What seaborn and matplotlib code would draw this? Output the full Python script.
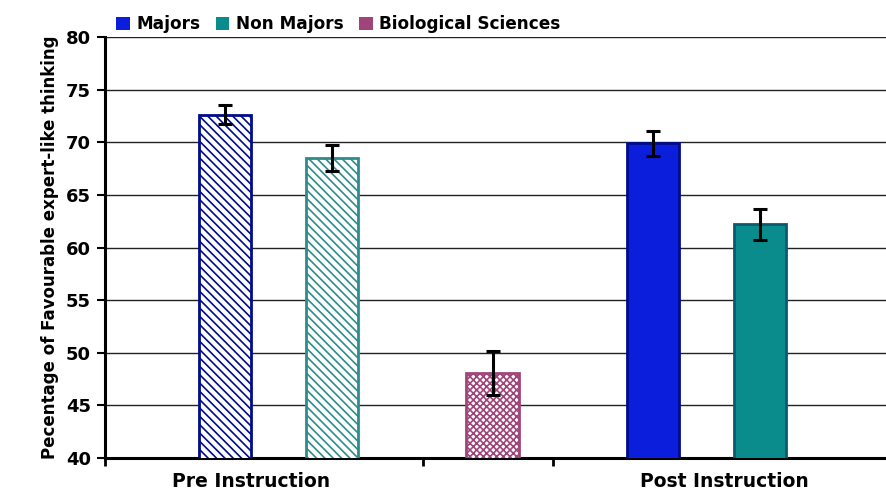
import pandas as pd
import numpy as np
import matplotlib.pyplot as plt
import seaborn as sns
from matplotlib.patches import Patch

# values
phases = ['Pre Instruction', 'Pre Instruction', 'Biological', 'Post Instruction', 'Post Instruction']
groups = ['Majors', 'Non Majors', 'Biological Sciences', 'Majors', 'Non Majors']
scores = [72.6, 68.5, 48.1, 69.9, 62.2]
errors = [0.9, 1.2, 2.1, 1.2, 1.5]
phase_labels = ['Pre Instruction', 'Post Instruction']
y_ticks = [40, 45, 50, 55, 60, 65, 70, 75, 80]

# empty category slots between the bars (layout only)
gaps = [1, 2, 2, 1]

fill_colors = {'Majors': '#0A1EDC', 'Non Majors': '#0A8C8C', 'Biological Sciences': '#A0457A'}
edge_colors = {'Majors': '#000C8A', 'Non Majors': '#0B5A6E', 'Biological Sciences': '#A0457A'}

df = pd.DataFrame({'phase': phases, 'group': groups, 'score': scores, 'err': errors})
df['key'] = df['phase'] + '|' + df['group']

# Build category order with blank spacer slots
order = []
for i, k in enumerate(df['key']):
    order.append(k)
    if i < len(gaps):
        order += [' ' * (len(order) + j + 1) for j in range(gaps[i])]

sns.set_theme(style='white')
plt.rcParams['font.family'] = ['DejaVu Sans']
plt.rcParams['text.color'] = 'black'
plt.rcParams['axes.labelcolor'] = 'black'
plt.rcParams['xtick.color'] = 'black'
plt.rcParams['ytick.color'] = 'black'
plt.rcParams['hatch.linewidth'] = 1.2

fig = plt.figure(figsize=(8.86, 4.91), dpi=100)
ax = fig.add_axes([105 / 886, 1 - 458 / 491, 1 - 105 / 886, (458 - 37) / 491])

sns.barplot(data=df, x='key', y='score', order=order, color='white',
            width=0.99, errorbar=None, ax=ax, zorder=3)

# style every bar
for patch in ax.patches:
    xc = patch.get_x() + patch.get_width() / 2
    idx = int(round(xc))
    row = df[df['key'] == order[idx]].iloc[0]
    g, p = row['group'], row['phase']
    if p == 'Pre Instruction':
        patch.set_facecolor('white')
        patch.set_edgecolor(edge_colors[g] if g == 'Majors' else '#2E8C8C')
        patch.set_hatch('\\\\\\\\')
        patch.set_linewidth(2)
    elif p == 'Biological':
        patch.set_facecolor('white')
        patch.set_edgecolor(fill_colors[g])
        patch.set_hatch('xxxxx')
        patch.set_linewidth(2)
    else:
        patch.set_facecolor(fill_colors[g])
        patch.set_edgecolor(edge_colors[g])
        patch.set_linewidth(2)

# error bars at the bar positions
xpos = [order.index(k) for k in df['key']]
ax.errorbar(xpos, df['score'], yerr=df['err'], fmt='none', ecolor='black',
            elinewidth=2.2, capsize=5, capthick=2.2, zorder=5)

ax.set_ylim(40, 80)
ax.set_yticks(y_ticks)
ax.set_yticklabels([str(t) for t in y_ticks], fontsize=13, fontweight='bold')
ax.yaxis.grid(True, color='#222222', linewidth=1.0, zorder=0)
ax.set_axisbelow(True)
ax.tick_params(axis='y', direction='out', length=6, width=1.5, left=True, pad=4)

# x axis: tick marks at the boundaries, labels between them
ax.set_xlim(-2.243, 12.355)
ax.set_xticks([-2.243, 3.70, 6.13])
ax.set_xticklabels(['', '', ''])
ax.tick_params(axis='x', direction='out', length=6, width=2, bottom=True)
ax.set_xticks([0.49, 9.33], minor=True)
ax.set_xticklabels(phase_labels, minor=True, fontsize=13.5, fontweight='bold')
ax.tick_params(axis='x', which='minor', length=0, pad=10)
ax.set_xlabel('')
ax.set_ylabel('Pecentage of Favourable expert-like thinking', fontsize=12,
              fontweight='bold', labelpad=5)

for side in ['top', 'right']:
    ax.spines[side].set_visible(False)
for side in ['left', 'bottom']:
    ax.spines[side].set_color('black')
    ax.spines[side].set_linewidth(2.2)

handles = [Patch(facecolor=fill_colors[g], edgecolor='none', label=g)
           for g in ['Majors', 'Non Majors', 'Biological Sciences']]
fig.legend(handles=handles, loc='upper left', bbox_to_anchor=(101 / 886, 1.0),
           ncol=3, frameon=False, prop={'weight': 'bold', 'size': 12.2},
           handlelength=0.8, handleheight=0.8, handletextpad=0.4, columnspacing=0.9,
           borderaxespad=0.5)

fig.savefig('out.png', dpi=100)
